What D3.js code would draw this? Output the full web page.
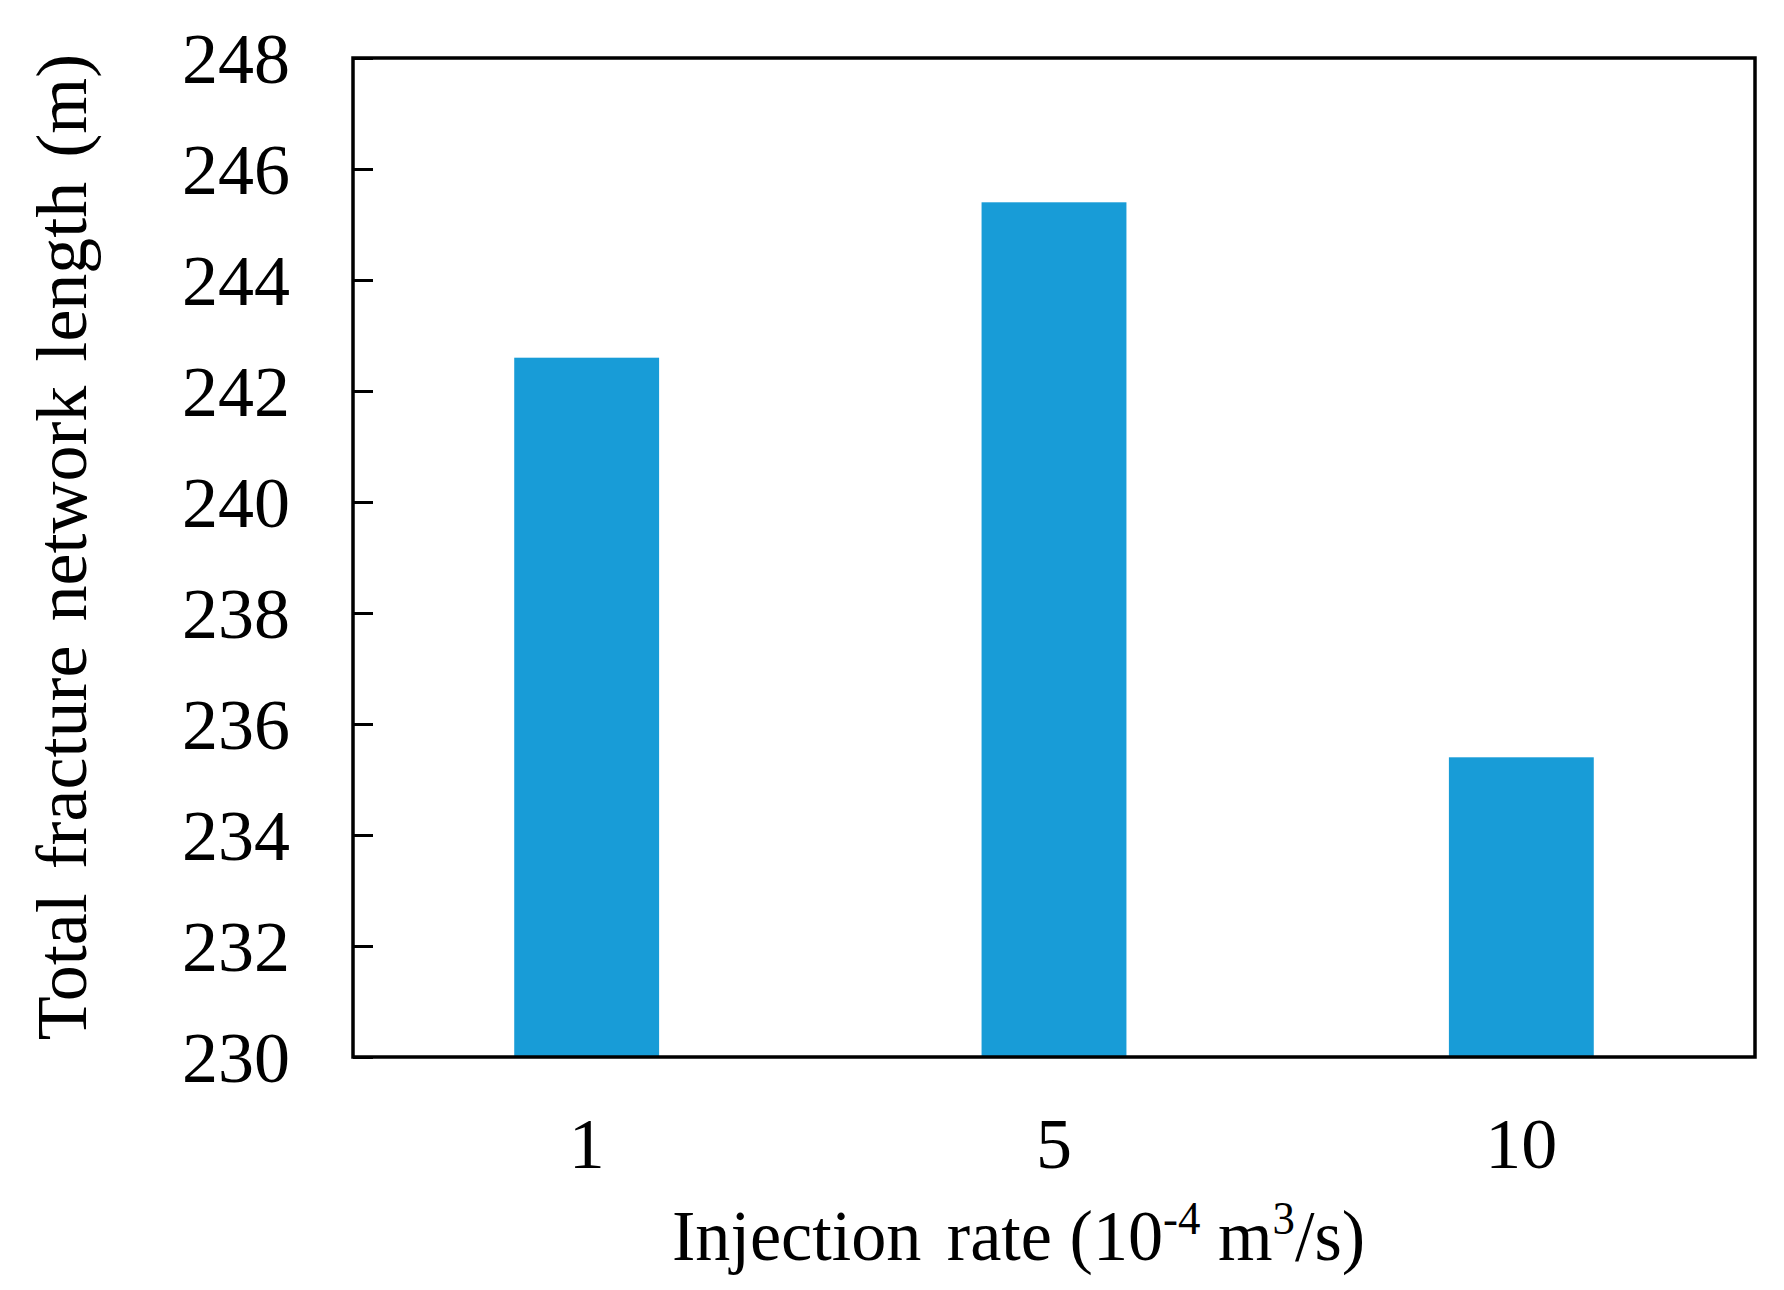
<!DOCTYPE html>
<html>
<head>
<meta charset="utf-8">
<script src="https://cdn.jsdelivr.net/npm/d3@7"></script>
<style>
  html, body { margin: 0; padding: 0; background: #fff; }
  svg { display: block; }
  text { font-family: "Liberation Serif", "Times New Roman", serif; fill: #000; }
</style>
</head>
<body>
<svg id="chart" width="1784" height="1290"></svg>
<script>
const categories = ["1", "5", "10"];
const values = [242.6, 245.4, 235.4];
const yTicks = [230, 232, 234, 236, 238, 240, 242, 244, 246, 248];
const yDomain = [230, 248];

const svg = d3.select("#chart");
const L = 353, R = 1755, T = 58, B = 1057;

const x = d3.scaleBand().domain(categories).range([L, R])
  .paddingInner(0.69).paddingOuter(0.345);
const y = d3.scaleLinear().domain(yDomain).range([B, T]);

// bars
svg.append("g").selectAll("rect").data(values).join("rect")
  .attr("x", (d, i) => x(categories[i]))
  .attr("width", x.bandwidth())
  .attr("y", d => y(d))
  .attr("height", d => y(yDomain[0]) - y(d))
  .attr("fill", "#189cd7");

// y axis with inward ticks
const yAxis = d3.axisLeft(y).tickValues(yTicks).tickSize(-20).tickPadding(63)
  .tickFormat(d3.format("d"));
const gy = svg.append("g").attr("transform", `translate(${L},0)`).call(yAxis);
gy.select(".domain").remove();
gy.selectAll(".tick line").attr("stroke", "#000").attr("stroke-width", 3);
gy.selectAll(".tick text").style("font-size", "72px")
  .style("font-family", '"Liberation Serif", serif').attr("dy", "0.34em");

// x axis labels
const xAxis = d3.axisBottom(x).tickSize(0).tickPadding(60);
const gx = svg.append("g").attr("transform", `translate(0,${B})`).call(xAxis);
gx.select(".domain").remove();
gx.selectAll(".tick text").style("font-size", "72px")
  .style("font-family", '"Liberation Serif", serif').attr("dy", "0.71em");

// frame
svg.append("rect").attr("x", L).attr("y", T).attr("width", R - L).attr("height", B - T)
  .attr("fill", "none").attr("stroke", "#000").attr("stroke-width", 3.5);

// x title
const xt = svg.append("text")
  .attr("transform", "translate(672,1260) scale(0.975,1)")
  .style("font-size", "72px");
xt.append("tspan").text("Injection");
xt.append("tspan").text("rate (10").attr("dx", 26);
xt.append("tspan").text("-4").attr("dy", -26).style("font-size", "46px");
xt.append("tspan").text(" m").attr("dy", 26);
xt.append("tspan").text("3").attr("dy", -26).style("font-size", "46px");
xt.append("tspan").text("/s)").attr("dy", 26);

// y title
svg.append("text")
  .attr("transform", "translate(86,547) rotate(-90)")
  .attr("text-anchor", "middle")
  .style("font-size", "72px").style("word-spacing", "6px")
  .text("Total fracture network length (m)");
</script>
</body>
</html>
